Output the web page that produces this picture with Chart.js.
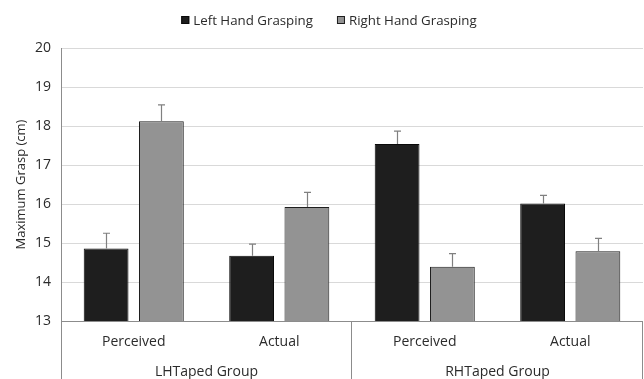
<!DOCTYPE html>
<html>
<head>
<meta charset="utf-8">
<script src="https://cdn.jsdelivr.net/npm/chart.js@4.4.1/dist/chart.umd.min.js"></script>
<style>
  html, body { margin: 0; padding: 0; background: #ffffff; }
  #wrap { width: 644px; height: 379px; }
</style>
</head>
<body>
<div id="wrap"><canvas id="chart" width="644" height="379"></canvas></div>
<script>
// Sub-categories along the x axis and the group each belongs to
const conditions = ['Perceived', 'Actual', 'Perceived', 'Actual'];
const groups = ['LHTaped Group', 'RHTaped Group'];
const groupSize = 2;

// Mean maximum grasp (cm) per hand
const seriesNames = ['Left Hand Grasping', 'Right Hand Grasping'];
const leftHand = [14.86, 14.67, 17.54, 16.01];
const rightHand = [18.12, 15.92, 14.39, 14.79];

// Upper error (cm) above each mean
const leftHandErr = [0.39, 0.30, 0.33, 0.21];
const rightHandErr = [0.42, 0.38, 0.34, 0.33];

// Y axis range and ticks
const yMin = 13;
const yMax = 20;
const yStep = 1;

const FONT = 'Open Sans, Noto Sans, sans-serif';
const TEXT = '#2b2b2b';

const errorBars = {
  id: 'errorBars',
  afterDatasetsDraw(chart) {
    const ctx = chart.ctx;
    const y = chart.scales.y;
    const errs = [leftHandErr, rightHandErr];
    ctx.save();
    ctx.strokeStyle = '#808080';
    ctx.lineWidth = 1.2;
    chart.data.datasets.forEach((ds, di) => {
      const meta = chart.getDatasetMeta(di);
      meta.data.forEach((bar, i) => {
        const top = y.getPixelForValue(ds.data[i] + errs[di][i]);
        const x = Math.round(bar.x) + 0.5;
        ctx.beginPath();
        ctx.moveTo(x, bar.y);
        ctx.lineTo(x, top);
        ctx.moveTo(x - 3.5, top);
        ctx.lineTo(x + 3.5, top);
        ctx.stroke();
      });
    });
    ctx.restore();
  }
};

const frameAndGroups = {
  id: 'frameAndGroups',
  afterDraw(chart) {
    const ctx = chart.ctx;
    const area = chart.chartArea;
    const H = chart.height;
    const n = conditions.length;
    const catW = (area.right - area.left) / n;
    ctx.save();
    ctx.strokeStyle = '#8c8c8c';
    ctx.lineWidth = 1;
    // baseline at the y minimum
    ctx.beginPath();
    ctx.moveTo(area.left, Math.round(area.bottom) + 0.5);
    ctx.lineTo(area.right, Math.round(area.bottom) + 0.5);
    // left axis line, running down through the category labels
    ctx.moveTo(Math.round(area.left) + 0.5, area.top);
    ctx.lineTo(Math.round(area.left) + 0.5, H);
    // group dividers
    for (let g = 1; g <= groups.length; g++) {
      const gx = Math.round(area.left + g * groupSize * catW) - 0.5;
      ctx.moveTo(gx, area.bottom);
      ctx.lineTo(gx, H);
    }
    ctx.stroke();
    // group labels
    ctx.fillStyle = TEXT;
    ctx.font = '14px ' + FONT;
    ctx.textAlign = 'center';
    ctx.textBaseline = 'middle';
    groups.forEach((name, g) => {
      const cx = area.left + (g * groupSize + groupSize / 2) * catW;
      ctx.fillText(name, cx, 372);
    });
    ctx.restore();
  }
};

const topLegend = {
  id: 'topLegend',
  afterDraw(chart) {
    const ctx = chart.ctx;
    ctx.save();
    ctx.font = '13.3px ' + FONT;
    ctx.textBaseline = 'middle';
    const box = 8, gapBox = 4, gapItem = 24;
    const items = chart.data.datasets.map(d => ({ label: d.label, color: d.backgroundColor, border: d.borderColor }));
    let total = 0;
    items.forEach((it, i) => {
      it.w = box + gapBox + ctx.measureText(it.label).width;
      total += it.w + (i ? gapItem : 0);
    });
    let cx = 329 - total / 2;
    const cy = 20;
    items.forEach(it => {
      ctx.fillStyle = it.color;
      ctx.fillRect(cx, cy - box / 2, box, box);
      ctx.strokeStyle = it.border;
      ctx.lineWidth = 1;
      ctx.strokeRect(cx + 0.5, cy - box / 2 + 0.5, box - 1, box - 1);
      ctx.fillStyle = TEXT;
      ctx.fillText(it.label, cx + box + gapBox, cy + 1);
      cx += it.w + gapItem;
    });
    ctx.restore();
  }
};

new Chart(document.getElementById('chart'), {
  type: 'bar',
  data: {
    labels: conditions,
    datasets: [
      {
        label: seriesNames[0],
        data: leftHand,
        backgroundColor: '#1e1e1e',
        borderColor: '#0a0a0a',
        borderWidth: 1
      },
      {
        label: seriesNames[1],
        data: rightHand,
        backgroundColor: '#939393',
        borderColor: '#1e1e1e',
        borderWidth: 1
      }
    ]
  },
  options: {
    responsive: false,
    animation: false,
    events: [],
    layout: { padding: { top: 48, right: 1, left: 0, bottom: 0 } },
    categoryPercentage: 0.76,
    barPercentage: 0.81,
    plugins: {
      legend: { display: false },
      tooltip: { enabled: false }
    },
    scales: {
      x: {
        grid: { display: false, drawTicks: false },
        border: { display: false },
        ticks: {
          color: TEXT,
          font: { family: FONT, size: 14 },
          padding: 13,
          maxRotation: 0
        },
        afterFit(scale) { scale.height = 58; }
      },
      y: {
        min: yMin,
        max: yMax,
        grid: { color: '#d9d9d9', lineWidth: 1, drawTicks: false },
        border: { display: false },
        ticks: {
          stepSize: yStep,
          color: TEXT,
          font: { family: FONT, size: 14 },
          padding: 10
        },
        title: {
          display: true,
          text: 'Maximum Grasp (cm)',
          color: TEXT,
          font: { family: FONT, size: 13 },
          padding: { top: 13, bottom: 0 }
        },
        afterFit(scale) { scale.width = 61; }
      }
    }
  },
  plugins: [errorBars, frameAndGroups, topLegend]
});
</script>
</body>
</html>
